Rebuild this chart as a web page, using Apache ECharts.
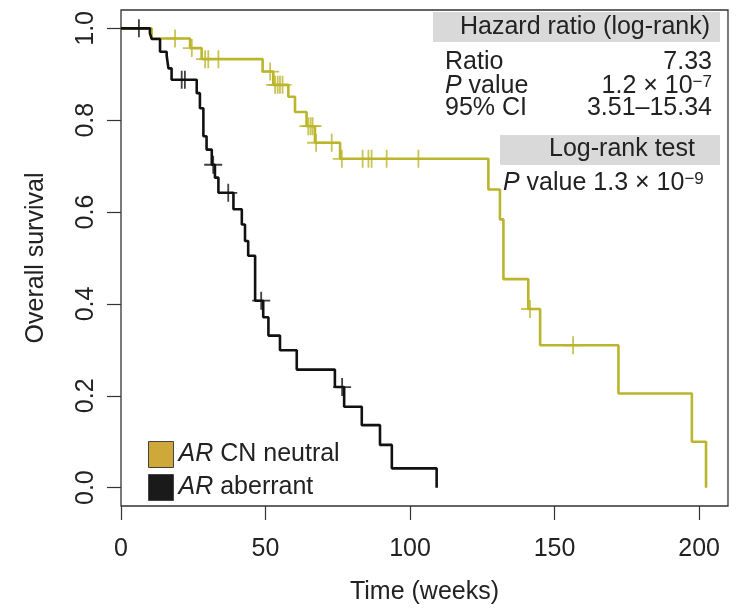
<!DOCTYPE html>
<html><head><meta charset="utf-8">
<script src="https://cdn.jsdelivr.net/npm/echarts@6/dist/echarts.min.js"></script>
<style>html,body{margin:0;padding:0;background:#fff}#c{width:737px;height:610px}</style>
</head><body><div id="c"></div>
<script>
// ---- data (weeks, survival) ----
const neutralTimes = [0, 10.6, 23.9, 27.9, 49.0, 52.7, 57.9, 60.2, 64.2, 67.1, 75.8, 127.1, 131.1, 132.3, 140.9, 145.0, 172.1, 197.5, 202.4];
const neutralSurv  = [1, 0.978, 0.957, 0.933, 0.906, 0.877, 0.851, 0.818, 0.787, 0.751, 0.716, 0.649, 0.584, 0.454, 0.389, 0.310, 0.205, 0.100, 0.0];
const neutralCensorTimes = [18.7, 24.5, 29.1, 30.2, 33.7, 51.6, 53.3, 54.2, 55.0, 55.9, 64.8, 65.6, 66.3, 67.5, 72.9, 76.4, 83.6, 85.6, 86.7, 91.9, 102.9, 141.5, 156.4];
const neutralCensorSurv  = [0.978, 0.957, 0.933, 0.933, 0.933, 0.906, 0.877, 0.877, 0.877, 0.877, 0.787, 0.787, 0.787, 0.751, 0.751, 0.716, 0.716, 0.716, 0.716, 0.716, 0.716, 0.389, 0.310];

const aberrantTimes = [0, 10.0, 10.6, 13.5, 15.8, 16.4, 17.5, 26.2, 27.3, 28.5, 29.6, 31.4, 32.5, 33.7, 38.9, 41.8, 42.9, 44.0, 46.4, 49.2, 51.0, 55.0, 60.8, 74.0, 77.2, 83.3, 89.6, 93.7, 109.2];
const aberrantSurv  = [1, 0.989, 0.977, 0.949, 0.941, 0.913, 0.888, 0.859, 0.826, 0.765, 0.736, 0.703, 0.675, 0.642, 0.606, 0.573, 0.537, 0.505, 0.407, 0.371, 0.331, 0.299, 0.257, 0.219, 0.176, 0.136, 0.093, 0.042, 0.0];
const aberrantCensorTimes = [6.2, 21.0, 22.1, 31.9, 37.1, 48.5, 76.5];
const aberrantCensorSurv  = [1.0, 0.888, 0.888, 0.703, 0.642, 0.407, 0.219];

const xTicks = [0, 50, 100, 150, 200];
const yTicks = [0, 0.2, 0.4, 0.6, 0.8, 1.0];
const seriesNames = ['AR CN neutral', 'AR aberrant'];

// ---- styling ----
const FONT = '"Liberation Sans", Arial, sans-serif';
const TXT = '#222';
const YEL = '#BAB52A';
const YEL_LEG = '#CFA83A';
const BLK = '#111';
const PLUS = 'path://M-1,-10 L1,-10 L1,-1 L10,-1 L10,1 L1,1 L1,10 L-1,10 L-1,1 L-10,1 L-10,-1 L-1,-1 Z';

const zip = (a, b) => a.map((v, i) => [v, b[i]]);

const chart = echarts.init(document.getElementById('c'), null, {renderer: 'canvas'});

function txt(x, y, text, align) {
  return {
    type: 'text', x: x, y: y, z: 100,
    style: {
      text: text, align: align, verticalAlign: 'middle',
      fill: TXT, fontSize: 25, fontFamily: FONT,
      rich: {
        n: {fontSize: 25, fontFamily: FONT, fill: TXT},
        i: {fontSize: 25, fontFamily: FONT, fontStyle: 'italic', fill: TXT},
        s: {fontSize: 17, fontFamily: FONT, fill: TXT, verticalAlign: 'top'}
      }
    }
  };
}

const option = {
  animation: false,
  backgroundColor: '#fff',
  grid: {left: 121, right: 9, top: 10, bottom: 101, show: true, borderColor: '#333', borderWidth: 1.3, backgroundColor: 'transparent'},
  xAxis: {
    type: 'value', min: 0, max: 210,
    name: 'Time (weeks)', nameLocation: 'middle', nameGap: 74,
    nameTextStyle: {fontSize: 25, fontFamily: FONT, color: TXT},
    axisLine: {show: false, onZero: false},
    axisTick: {show: true, length: 14, customValues: xTicks, lineStyle: {color: '#333', width: 1.2}},
    axisLabel: {customValues: xTicks, margin: 31, fontSize: 25, fontFamily: FONT, color: TXT},
    splitLine: {show: false}
  },
  yAxis: {
    type: 'value', min: -0.04, max: 1.04,
    name: 'Overall survival', nameLocation: 'middle', nameGap: 72,
    nameTextStyle: {fontSize: 25, fontFamily: FONT, color: TXT},
    axisLine: {show: false, onZero: false},
    axisTick: {show: true, length: 14, customValues: yTicks, lineStyle: {color: '#333', width: 1.2}},
    axisLabel: {customValues: yTicks, rotate: 90, margin: 22, fontSize: 25, fontFamily: FONT, color: TXT,
      formatter: v => v.toFixed(1)},
    splitLine: {show: false}
  },
  legend: {
    orient: 'vertical', left: 143, top: 436, itemWidth: 25, itemHeight: 26, itemGap: 6,
    selectedMode: false,
    data: [
      {name: seriesNames[0], icon: 'rect', itemStyle: {color: YEL_LEG, borderColor: '#444', borderWidth: 1}},
      {name: seriesNames[1], icon: 'rect', itemStyle: {color: '#1a1a1a', borderColor: '#444', borderWidth: 1}}
    ],
    formatter: name => '{i|AR}{n|' + name.slice(2) + '}',
    textStyle: {fontSize: 25, fontFamily: FONT, color: TXT, lineHeight: 26,
      rich: {i: {fontSize: 25, fontStyle: 'italic', fontFamily: FONT, color: TXT}, n: {fontSize: 25, fontFamily: FONT, color: TXT}}}
  },
  series: [
    {name: seriesNames[0], type: 'line', step: 'end', data: zip(neutralTimes, neutralSurv), showSymbol: false,
     lineStyle: {color: YEL, width: 2.6}, itemStyle: {color: YEL}, z: 2},
    {name: 'neutral censored', type: 'scatter', data: zip(neutralCensorTimes, neutralCensorSurv), symbol: PLUS, symbolSize: 18,
     itemStyle: {color: YEL}, z: 2},
    {name: seriesNames[1], type: 'line', step: 'end', data: zip(aberrantTimes, aberrantSurv), showSymbol: false,
     lineStyle: {color: BLK, width: 2.6}, itemStyle: {color: BLK}, z: 3},
    {name: 'aberrant censored', type: 'scatter', data: zip(aberrantCensorTimes, aberrantCensorSurv), symbol: PLUS, symbolSize: 18,
     itemStyle: {color: BLK}, z: 3}
  ],
  graphic: [
    {type: 'rect', shape: {x: 433, y: 12, width: 287, height: 30}, style: {fill: '#d9d9d9'}, z: 90},
    {type: 'rect', shape: {x: 500, y: 135, width: 220, height: 30}, style: {fill: '#d9d9d9'}, z: 90},
    txt(585, 27, 'Hazard ratio (log-rank)', 'center'),
    txt(445, 62, 'Ratio', 'left'),
    txt(712, 62, '7.33', 'right'),
    txt(445, 86, '{i|P}{n| value}', 'left'),
    txt(712, 86, '{n|1.2 × 10}{s|−7}', 'right'),
    txt(445, 108, '95% CI', 'left'),
    txt(712, 108, '3.51–15.34', 'right'),
    txt(622, 149, 'Log-rank test', 'center'),
    txt(503, 183, '{i|P}{n| value 1.3 × 10}{s|−9}', 'left')
  ]
};
chart.setOption(option);
</script>
</body></html>
